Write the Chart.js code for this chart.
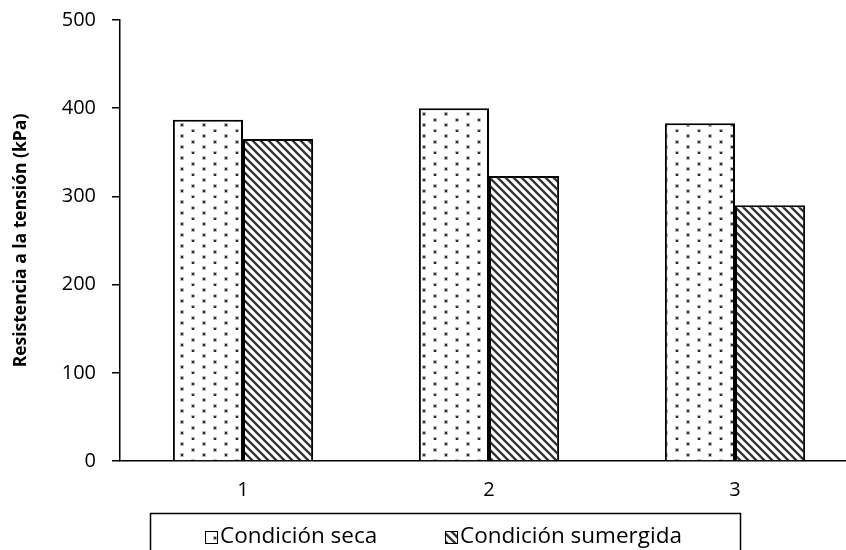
<!DOCTYPE html>
<html>
<head>
<meta charset="utf-8">
<script src="https://cdn.jsdelivr.net/npm/chart.js@4"></script>
<style>
  html, body { margin: 0; padding: 0; overflow: hidden; background: #fff; }
  #wrap { width: 870px; height: 550px; }
</style>
</head>
<body>
<div id="wrap"><canvas id="c" width="870" height="550"></canvas></div>
<script>
// Tensile strength per specimen, dry vs. submerged condition (kPa)
const categories = ['1', '2', '3'];
const secaValues = [387, 400, 383];
const sumergidaValues = [365, 323, 290];
const seriesNames = ['Condición seca', 'Condición sumergida'];
const yTickValues = [0, 100, 200, 300, 400, 500];
const yTitle = 'Resistencia a la tensión (kPa)';

const FONT = '"Open Sans", Lato, "Liberation Sans", sans-serif';

// Sparse staggered dot fill
function dotPattern() {
  const t = document.createElement('canvas');
  t.width = 22; t.height = 22;
  const g = t.getContext('2d');
  g.fillStyle = '#fff';
  g.fillRect(0, 0, 22, 22);
  const dots = [[5, 3], [5, 14], [16, 9], [16, 20]];
  for (const [x, y] of dots) {
    g.fillStyle = 'rgba(60,60,60,0.35)';
    g.fillRect(x - 1, y - 1, 4, 4);
    g.fillStyle = '#2a2a2a';
    g.fillRect(x, y, 2, 2);
  }
  return g.createPattern(t, 'repeat');
}

// Downward diagonal stripes
function hatchPattern() {
  const s = 8;
  const t = document.createElement('canvas');
  t.width = s; t.height = s;
  const g = t.getContext('2d');
  g.fillStyle = '#fff';
  g.fillRect(0, 0, s, s);
  g.strokeStyle = '#333';
  g.lineWidth = 2.3;
  g.beginPath();
  g.moveTo(-s, 0); g.lineTo(s, 2 * s);
  g.moveTo(0, 0); g.lineTo(s, s);
  g.moveTo(0, -s); g.lineTo(2 * s, s);
  g.stroke();
  return g.createPattern(t, 'repeat');
}

const patterns = [dotPattern(), hatchPattern()];

// Boxed legend under the axis
const boxedLegend = {
  id: 'boxedLegend',
  afterDraw(chart) {
    const ctx = chart.ctx;
    ctx.save();
    ctx.strokeStyle = '#000';
    ctx.lineWidth = 1.5;
    ctx.strokeRect(150.5, 513.5, 590, 60);
    const starts = [205, 445];
    ctx.font = '22.5px ' + FONT;
    ctx.textBaseline = 'middle';
    chart.data.datasets.forEach((ds, i) => {
      const x = starts[i], y = 531;
      ctx.fillStyle = ds.backgroundColor;
      ctx.fillRect(x, y, 12, 12);
      ctx.strokeStyle = '#000';
      ctx.lineWidth = 1;
      ctx.strokeRect(x + 0.5, y + 0.5, 12, 12);
      ctx.fillStyle = '#000';
      ctx.fillText(ds.label, x + 15, y + 6);
    });
    ctx.restore();
  }
};

new Chart(document.getElementById('c'), {
  type: 'bar',
  data: {
    labels: categories,
    datasets: [
      { label: seriesNames[0], data: secaValues, backgroundColor: patterns[0],
        borderColor: '#000', borderWidth: 2, borderSkipped: 'bottom' },
      { label: seriesNames[1], data: sumergidaValues, backgroundColor: patterns[1],
        borderColor: '#000', borderWidth: 2, borderSkipped: 'bottom' }
    ]
  },
  options: {
    responsive: false,
    animation: false,
    devicePixelRatio: 1,
    layout: { padding: { top: 20, right: 12, bottom: 0, left: 0 } },
    datasets: { bar: { categoryPercentage: 0.57, barPercentage: 1 } },
    plugins: { legend: { display: false }, tooltip: { enabled: false } },
    scales: {
      x: {
        grid: { display: false, drawTicks: false },
        border: { display: true, color: '#000', width: 1.5 },
        ticks: { color: '#000', font: { family: FONT, size: 20 }, padding: 17 },
        afterFit(s) { s.height = 89; }
      },
      y: {
        min: 0, max: 500,
        afterBuildTicks(s) { s.ticks = yTickValues.map(v => ({ value: v })); },
        grid: { drawOnChartArea: false, drawTicks: true, tickLength: 8, color: '#000', lineWidth: 1.5 },
        border: { display: true, color: '#000', width: 1.5 },
        ticks: { color: '#000', font: { family: FONT, size: 20 }, padding: 16 },
        title: { display: true, text: yTitle, color: '#000',
                 font: { family: FONT, size: 17.5, weight: 'bold' }, padding: { top: 11, bottom: 0 } },
        afterFit(s) { s.width = 120; s.paddingTop = 0; s.paddingBottom = 0; }
      }
    }
  },
  plugins: [boxedLegend]
});
</script>
</body>
</html>
